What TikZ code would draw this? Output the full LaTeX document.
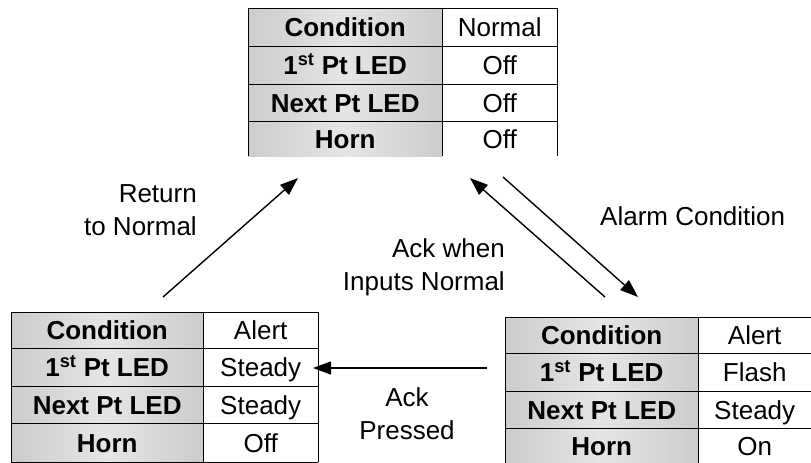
\documentclass[tikz,border=0pt]{standalone}
\usepackage{fontspec}
\setmainfont{Liberation Sans}
\usetikzlibrary{arrows.meta}
\tikzset{
  cellbase/.style={anchor=north west, inner sep=0pt, text height=18.7pt, text depth=0pt, font=\fontsize{26}{30}\selectfont},
  labcell/.style={cellbase, font=\fontsize{26}{30}\selectfont\bfseries, left color=black!20, right color=black!20, middle color=black!10},
  valcell/.style={cellbase, fill=white},
  grid/.style={draw=black, line width=1pt},
  trans/.style={draw=black, line width=1.4pt, -{Triangle[length=18pt,width=13pt]}},
  lbl/.style={font=\fontsize{26}{33}\selectfont, inner sep=0pt}
}
\newcommand\fpt{1\textsuperscript{st} Pt LED}
\begin{document}
\begin{tikzpicture}[x=1pt,y=-1pt]
\useasboundingbox (0,0) rectangle (811,463);
% ---------- top table (Normal) ----------
\node[labcell, minimum width=194pt, minimum height=38pt] (tl1) at (248,8) {Condition};
\node[labcell, minimum width=194pt, minimum height=38pt] (tl2) at (248,46) {\fpt};
\node[labcell, minimum width=194pt, minimum height=37pt] (tl3) at (248,84) {Next Pt LED};
\node[labcell, minimum width=194pt, minimum height=35pt] (tl4) at (248,121) {Horn};
\node[valcell, minimum width=115pt, minimum height=38pt] (tv1) at (442,8) {Normal};
\node[valcell, minimum width=115pt, minimum height=38pt] (tv2) at (442,46) {Off};
\node[valcell, minimum width=115pt, minimum height=37pt] (tv3) at (442,84) {Off};
\node[valcell, minimum width=115pt, minimum height=35pt] (tv4) at (442,121) {Off};
\draw[grid] (tl1.north west) -- (tv1.north east);
\draw[grid] (tl2.north west) -- (tv2.north east);
\draw[grid] (tl3.north west) -- (tv3.north east);
\draw[grid] (tl4.north west) -- (tv4.north east);
\draw[grid] (tl1.north west) -- (tl4.south west);
\draw[grid] (tv1.north west) -- (tv4.south west);
\draw[grid] (tv1.north east) -- (tv4.south east);
% ---------- left table (Acknowledged) ----------
\node[labcell, minimum width=192pt, minimum height=36pt] (ll1) at (11,312) {Condition};
\node[labcell, minimum width=192pt, minimum height=38pt] (ll2) at (11,348) {\fpt};
\node[labcell, minimum width=192pt, minimum height=37pt] (ll3) at (11,386) {Next Pt LED};
\node[labcell, minimum width=192pt, minimum height=39pt] (ll4) at (11,423) {Horn};
\node[valcell, minimum width=115pt, minimum height=36pt] (lv1) at (203,312) {Alert};
\node[valcell, minimum width=115pt, minimum height=38pt] (lv2) at (203,348) {Steady};
\node[valcell, minimum width=115pt, minimum height=37pt] (lv3) at (203,386) {Steady};
\node[valcell, minimum width=115pt, minimum height=39pt] (lv4) at (203,423) {Off};
\draw[grid] (ll1.north west) -- (lv1.north east);
\draw[grid] (ll2.north west) -- (lv2.north east);
\draw[grid] (ll3.north west) -- (lv3.north east);
\draw[grid] (ll4.north west) -- (lv4.north east);
\draw[grid] (ll4.south west) -- (lv4.south east);
\draw[grid] (ll1.north west) -- (ll4.south west);
\draw[grid] (lv1.north west) -- (lv4.south west);
\draw[grid] (lv1.north east) -- (lv4.south east);
% ---------- right table (Alarm) ----------
\node[labcell, minimum width=193pt, minimum height=36pt] (rl1) at (505,317) {Condition};
\node[labcell, minimum width=193pt, minimum height=38pt] (rl2) at (505,353) {\fpt};
\node[labcell, minimum width=193pt, minimum height=37pt] (rl3) at (505,391) {Next Pt LED};
\node[labcell, minimum width=193pt, minimum height=35pt] (rl4) at (505,428) {Horn};
\node[valcell, minimum width=113pt, minimum height=36pt] (rv1) at (698,317) {Alert};
\node[valcell, minimum width=113pt, minimum height=38pt] (rv2) at (698,353) {Flash};
\node[valcell, minimum width=113pt, minimum height=37pt] (rv3) at (698,391) {Steady};
\node[valcell, minimum width=113pt, minimum height=35pt] (rv4) at (698,428) {On};
\draw[grid] (rl1.north west) -- (rv1.north east);
\draw[grid] (rl2.north west) -- (rv2.north east);
\draw[grid] (rl3.north west) -- (rv3.north east);
\draw[grid] (rl4.north west) -- (rv4.north east);
\draw[grid] (rl1.north west) -- (rl4.south west);
\draw[grid] (rv1.north west) -- (rv4.south west);
% ---------- transitions ----------
\coordinate (retS) at (163,297);
\coordinate (retE) at (298,178);
\coordinate (ackS) at (605,297);
\coordinate (ackE) at (470,178);
\coordinate (alS) at (503,177);
\coordinate (alE) at (638,297);
\coordinate (prS) at (487,368);
\coordinate (prE) at (313,368);
\draw[trans] (retS) -- (retE);
\draw[trans] (ackS) -- (ackE);
\draw[trans] (alS) -- (alE);
\draw[trans] (prS) -- (prE);
\node[lbl, align=right, anchor=east] (tRet) at (197,210) {Return\\to Normal};
\node[lbl, align=right, anchor=east] (tAck) at (505,267) {Ack when\\Inputs Normal};
\node[lbl, anchor=west] (tAl) at (600,216) {Alarm Condition};
\node[lbl, align=center] (tPr) at (407,414) {Ack\\Pressed};
\end{tikzpicture}
\end{document}
